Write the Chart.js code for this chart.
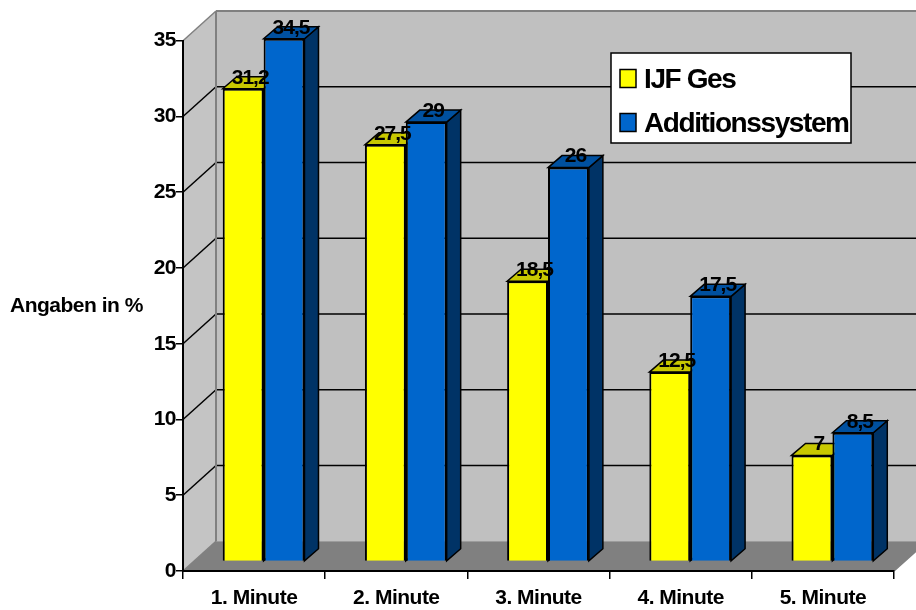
<!DOCTYPE html>
<html>
<head>
<meta charset="utf-8">
<title>Angaben in %</title>
<script src="https://cdn.jsdelivr.net/npm/chart.js@4/dist/chart.umd.js"></script>
<style>
  html, body { margin: 0; padding: 0; background: #fff; }
  canvas { display: block; }
</style>
</head>
<body>
<canvas id="myChart" width="916" height="610"></canvas>
<script>
var categories = ['1. Minute', '2. Minute', '3. Minute', '4. Minute', '5. Minute'];
var ijfGes = [31.2, 27.5, 18.5, 12.5, 7];
var additionssystem = [34.5, 29, 26, 17.5, 8.5];
var seriesNames = ['IJF Ges', 'Additionssystem'];
var yTicks = [0, 5, 10, 15, 20, 25, 30, 35];
var yTitle = 'Angaben in %';

var FONT = '"Liberation Sans", Arial, sans-serif';

// depth of the fake 3D box and of the bars
var wallDx = 33, wallDy = -29.7;
var barShiftX = 9.5, barShiftY = -9.5;
var barDx = 14, barDy = -12;

var faces = [
    { front: '#FFFF00', top: '#C8C800', side: '#999900' },
    { front: '#0066CC', top: '#00509F', side: '#003366' }
];

function poly(ctx, pts, fill, stroke, lw) {
    ctx.beginPath();
    ctx.moveTo(pts[0][0], pts[0][1]);
    for (var i = 1; i < pts.length; i++) ctx.lineTo(pts[i][0], pts[i][1]);
    ctx.closePath();
    if (fill) { ctx.fillStyle = fill; ctx.fill(); }
    if (stroke) { ctx.strokeStyle = stroke; ctx.lineWidth = lw; ctx.stroke(); }
}

function line(ctx, x1, y1, x2, y2, color, lw) {
    ctx.beginPath();
    ctx.moveTo(x1, y1);
    ctx.lineTo(x2, y2);
    ctx.strokeStyle = color;
    ctx.lineWidth = lw;
    ctx.stroke();
}

var box3d = {
    id: 'box3d',
    // walls, floor and grid go under the axes
    beforeDraw: function (chart) {
        var ctx = chart.ctx, a = chart.chartArea, y = chart.scales.y;
        ctx.save();
        poly(ctx, [[a.left + wallDx, a.top + wallDy], [a.right + wallDx, a.top + wallDy],
                   [a.right + wallDx, a.bottom + wallDy], [a.left + wallDx, a.bottom + wallDy]], '#C0C0C0');
        poly(ctx, [[a.left, a.top], [a.left + wallDx, a.top + wallDy],
                   [a.left + wallDx, a.bottom + wallDy], [a.left, a.bottom]], '#C4C4C4');
        poly(ctx, [[a.left, a.bottom], [a.left + wallDx, a.bottom + wallDy],
                   [a.right + wallDx, a.bottom + wallDy], [a.right, a.bottom]], '#808080');

        yTicks.forEach(function (v) {
            if (v === 0 || v === 35) return;
            var py = y.getPixelForValue(v);
            line(ctx, a.left, py, a.left + wallDx, py + wallDy, '#000', 1.5);
            line(ctx, a.left + wallDx, py + wallDy, a.right + wallDx, py + wallDy, '#000', 1.5);
        });

        var g = '#808080';
        line(ctx, a.left + wallDx, a.top + wallDy, a.right + wallDx, a.top + wallDy, g, 2);
        line(ctx, a.left + wallDx, a.top + wallDy, a.left + wallDx, a.bottom + wallDy, g, 2);
        line(ctx, a.left, a.top, a.left + wallDx, a.top + wallDy, g, 1.5);
        line(ctx, a.left, a.bottom, a.left + wallDx, a.bottom + wallDy, g, 1.5);
        line(ctx, a.right, a.bottom, a.right + wallDx, a.bottom + wallDy, g, 1.5);
        ctx.restore();

        // Chart.js has no letter spacing option for ticks
        ctx.letterSpacing = '-0.5px';
    },
    beforeDatasetsDraw: function (chart) {
        var ctx = chart.ctx;
        ctx.save();
        ctx.translate(barShiftX, barShiftY);
        chart.data.datasets.forEach(function (ds, i) {
            chart.getDatasetMeta(i).data.forEach(function (bar) {
                var r = bar.x + bar.width / 2, l = bar.x - bar.width / 2;
                poly(ctx, [[r, bar.y], [r + barDx, bar.y + barDy], [r + barDx, bar.base + barDy], [r, bar.base]],
                     faces[i].side, '#000', 1.5);
                poly(ctx, [[l, bar.y], [l + barDx, bar.y + barDy], [r + barDx, bar.y + barDy], [r, bar.y]],
                     faces[i].top, '#000', 1.5);
            });
        });
    },
    afterDatasetsDraw: function (chart) {
        var ctx = chart.ctx;
        ctx.fillStyle = '#000';
        ctx.letterSpacing = '-1px';
        ctx.font = 'bold 21px ' + FONT;
        ctx.textAlign = 'center';
        ctx.textBaseline = 'middle';
        chart.data.datasets.forEach(function (ds, i) {
            chart.getDatasetMeta(i).data.forEach(function (bar, j) {
                ctx.fillText(String(ds.data[j]).replace('.', ','), bar.x + 7, bar.y - 11);
            });
        });
        ctx.restore();
    },
    afterDraw: function (chart) {
        var ctx = chart.ctx;
        ctx.save();

        // axis title is horizontal here, so not the scale's own title
        ctx.fillStyle = '#000';
        ctx.letterSpacing = '-0.5px';
        ctx.font = 'bold 21px ' + FONT;
        ctx.textAlign = 'left';
        ctx.textBaseline = 'middle';
        ctx.fillText(yTitle, 10, 306);

        // legend sits inside the wall, where the built-in one can't go
        ctx.fillStyle = '#fff';
        ctx.fillRect(611, 53, 240, 90);
        ctx.strokeStyle = '#000';
        ctx.lineWidth = 1.5;
        ctx.strokeRect(611, 53, 240, 90);
        ctx.letterSpacing = '-1.4px';
        ctx.font = 'bold 28px ' + FONT;
        chart.data.datasets.forEach(function (ds, i) {
            var top = 69.5 + i * 44;
            ctx.fillStyle = ds.backgroundColor;
            ctx.fillRect(620, top, 16, 18);
            ctx.strokeRect(620, top, 16, 18);
            ctx.fillStyle = '#000';
            ctx.fillText(ds.label, 644, top + 10.5);
        });
        ctx.restore();
    }
};

var chart = new Chart(document.getElementById('myChart'), {
    type: 'bar',
    data: {
        labels: categories,
        datasets: [
            { label: seriesNames[0], data: ijfGes, backgroundColor: faces[0].front, borderColor: '#000', borderWidth: 2 },
            { label: seriesNames[1], data: additionssystem, backgroundColor: faces[1].front, borderColor: '#000', borderWidth: 2 }
        ]
    },
    options: {
        responsive: false,
        animation: false,
        events: [],
        categoryPercentage: 0.575,
        barPercentage: 1,
        layout: { padding: { left: 0, top: 40.7, right: 22, bottom: 0 } },
        plugins: { legend: { display: false }, title: { display: false }, tooltip: { enabled: false } },
        scales: {
            x: {
                afterFit: function (scale) { scale.height = 39; },
                border: { color: '#000', width: 2 },
                grid: { drawOnChartArea: false, color: '#000', lineWidth: 1.5, tickLength: 8 },
                ticks: { color: '#000', font: { family: FONT, weight: 'bold', size: 21 }, padding: 7, maxRotation: 0 }
            },
            y: {
                min: 0,
                max: 35,
                afterFit: function (scale) { scale.width = 183; },
                afterBuildTicks: function (scale) {
                    scale.ticks = yTicks.map(function (v) { return { value: v }; });
                },
                border: { color: '#000', width: 2 },
                grid: { drawOnChartArea: false, color: '#000', lineWidth: 1.5, tickLength: 7 },
                ticks: { color: '#000', font: { family: FONT, weight: 'bold', size: 21 }, padding: 0 }
            }
        }
    },
    plugins: [box3d]
});
</script>
</body>
</html>
